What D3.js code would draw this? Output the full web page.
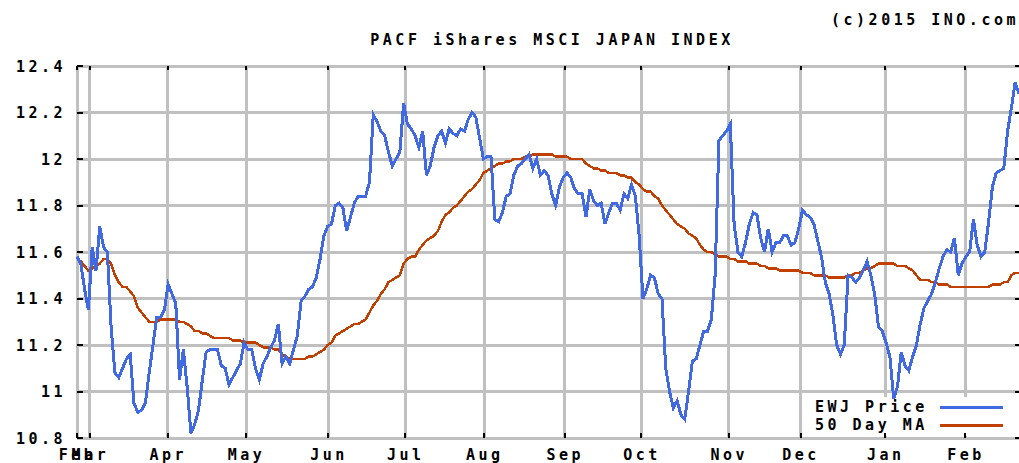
<!DOCTYPE html>
<html>
<head>
<meta charset="utf-8">
<script src="https://cdn.jsdelivr.net/npm/d3@7/dist/d3.min.js"></script>
<style>
  html, body { margin: 0; padding: 0; background: #fff; }
  svg text { font-family: "DejaVu Sans Mono", "Liberation Mono", monospace; font-weight: bold; font-size: 15px; letter-spacing: 3.5px; fill: #000; }
</style>
</head>
<body>
<div id="chart"></div>
<script>
var title = 'PACF iShares MSCI JAPAN INDEX';
var credit = '(c)2015 INO.com';

// month tick labels and their trading-day position
var monthLabels = ['Feb', 'Mar', 'Apr', 'May', 'Jun', 'Jul', 'Aug', 'Sep', 'Oct', 'Nov', 'Dec', 'Jan', 'Feb'];
var monthDays = [0, 3.4, 23.9, 44.5, 66.2, 86.4, 107.2, 128.4, 148.6, 171.6, 190.5, 212.8, 233.9];

var yTicks = [10.8, 11, 11.2, 11.4, 11.6, 11.8, 12, 12.2, 12.4];

// EWJ daily close, one value per trading day
var price = [
  11.58, 11.55, 11.44, 11.35, 11.62, 11.52, 11.71, 11.62, 11.60, 11.27,
  11.08, 11.06, 11.10, 11.14, 11.16, 10.95, 10.91, 10.92, 10.95, 11.08,
  11.20, 11.32, 11.32, 11.35, 11.46, 11.42, 11.38, 11.05, 11.18, 11.02,
  10.82, 10.86, 10.92, 11.05, 11.17, 11.18, 11.18, 11.18, 11.11, 11.10,
  11.03, 11.06, 11.09, 11.12, 11.21, 11.18, 11.18, 11.10, 11.05, 11.12,
  11.15, 11.19, 11.22, 11.29, 11.12, 11.15, 11.12, 11.18, 11.24, 11.39,
  11.41, 11.44, 11.45, 11.49, 11.57, 11.67, 11.71, 11.72, 11.80, 11.81,
  11.79, 11.69, 11.75, 11.81, 11.84, 11.84, 11.84, 11.90, 12.19, 12.16,
  12.12, 12.10, 12.03, 11.97, 12.00, 12.03, 12.24, 12.15, 12.13, 12.10,
  12.05, 12.12, 11.93, 11.97, 12.05, 12.10, 12.12, 12.07, 12.13, 12.11,
  12.10, 12.13, 12.12, 12.17, 12.20, 12.18, 12.09, 12.00, 12.01, 12.01,
  11.74, 11.73, 11.77, 11.84, 11.85, 11.93, 11.97, 11.98, 12.00, 12.02,
  11.96, 12.00, 11.93, 11.95, 11.93, 11.85, 11.80, 11.88, 11.92, 11.94,
  11.92, 11.87, 11.85, 11.85, 11.75, 11.87, 11.82, 11.80, 11.81, 11.72,
  11.77, 11.81, 11.81, 11.78, 11.85, 11.83, 11.89, 11.84, 11.67, 11.40,
  11.44, 11.50, 11.49, 11.42, 11.40, 11.10, 11.00, 10.93, 10.96, 10.90,
  10.88, 11.00, 11.13, 11.14, 11.20, 11.26, 11.26, 11.31, 11.50, 12.08,
  12.10, 12.12, 12.15, 11.72, 11.60, 11.58, 11.64, 11.72, 11.77, 11.76,
  11.66, 11.60, 11.70, 11.60, 11.64, 11.64, 11.67, 11.67, 11.63, 11.64,
  11.70, 11.78, 11.76, 11.75, 11.72, 11.65, 11.58, 11.47, 11.42, 11.33,
  11.20, 11.16, 11.20, 11.50, 11.49, 11.47, 11.49, 11.52, 11.56, 11.50,
  11.42, 11.28, 11.26, 11.21, 11.15, 10.97, 11.02, 11.17, 11.11, 11.09,
  11.15, 11.20, 11.29, 11.36, 11.39, 11.42, 11.47, 11.53, 11.58, 11.61,
  11.60, 11.66, 11.50, 11.55, 11.58, 11.60, 11.74, 11.63, 11.58, 11.60,
  11.73, 11.88, 11.94, 11.95, 11.96, 12.12, 12.22, 12.33, 12.28
];

// 50 day moving average
var ma50 = [
  11.57, 11.56, 11.54, 11.52, 11.53, 11.54, 11.55, 11.57, 11.57, 11.55,
  11.50, 11.47, 11.45, 11.45, 11.43, 11.41, 11.36, 11.34, 11.32, 11.30,
  11.30, 11.30, 11.31, 11.31, 11.31, 11.31, 11.31, 11.30, 11.30, 11.29,
  11.28, 11.26, 11.26, 11.25, 11.25, 11.24, 11.23, 11.23, 11.23, 11.23,
  11.23, 11.22, 11.22, 11.22, 11.21, 11.21, 11.21, 11.21, 11.20, 11.19,
  11.19, 11.19, 11.18, 11.18, 11.16, 11.15, 11.14, 11.14, 11.14, 11.14,
  11.14, 11.15, 11.15, 11.16, 11.17, 11.18, 11.20, 11.21, 11.24, 11.25,
  11.26, 11.27, 11.28, 11.29, 11.29, 11.30, 11.31, 11.34, 11.37, 11.39,
  11.42, 11.44, 11.47, 11.48, 11.49, 11.50, 11.55, 11.57, 11.58, 11.58,
  11.61, 11.63, 11.65, 11.66, 11.67, 11.69, 11.73, 11.76, 11.77, 11.79,
  11.80, 11.82, 11.84, 11.86, 11.87, 11.89, 11.91, 11.94, 11.95, 11.96,
  11.97, 11.98, 11.98, 11.99, 11.99, 12.00, 12.00, 12.00, 12.01, 12.01,
  12.02, 12.02, 12.02, 12.02, 12.02, 12.02, 12.01, 12.01, 12.01, 12.01,
  12.00, 12.00, 12.00, 12.00, 11.98, 11.97, 11.96, 11.96, 11.95, 11.95,
  11.94, 11.94, 11.94, 11.93, 11.93, 11.92, 11.92, 11.90, 11.89, 11.87,
  11.86, 11.86, 11.84, 11.83, 11.80, 11.78, 11.76, 11.74, 11.72, 11.71,
  11.70, 11.68, 11.67, 11.66, 11.63, 11.61, 11.60, 11.60, 11.59, 11.58,
  11.58, 11.58, 11.57, 11.57, 11.56, 11.56, 11.56, 11.55, 11.55, 11.55,
  11.54, 11.54, 11.53, 11.53, 11.53, 11.52, 11.52, 11.52, 11.52, 11.52,
  11.52, 11.51, 11.51, 11.51, 11.50, 11.50, 11.50, 11.50, 11.49, 11.49,
  11.49, 11.49, 11.49, 11.50, 11.50, 11.51, 11.51, 11.52, 11.53, 11.53,
  11.54, 11.55, 11.55, 11.55, 11.55, 11.55, 11.54, 11.54, 11.54, 11.53,
  11.52, 11.50, 11.48, 11.48, 11.48, 11.47, 11.47, 11.46, 11.46, 11.46,
  11.45, 11.45, 11.45, 11.45, 11.45, 11.45, 11.45, 11.45, 11.45, 11.45,
  11.45, 11.46, 11.46, 11.46, 11.47, 11.47, 11.50, 11.51, 11.51
];

var width = 1019, height = 463;
var plot = { left: 77, right: 1019, top: 66, bottom: 438 };

var svg = d3.select('#chart').append('svg')
  .attr('width', width)
  .attr('height', height)
  .style('display', 'block');

svg.append('rect').attr('width', width).attr('height', height).attr('fill', '#fff');

var x = d3.scaleLinear().domain([0, price.length - 1]).range([plot.left, plot.right]);
var y = d3.scaleLinear().domain([10.8, 12.4]).range([plot.bottom, plot.top]);

var grid = svg.append('g').attr('stroke', '#c0c0c0').attr('stroke-width', 3).attr('shape-rendering', 'crispEdges');
grid.selectAll('line.h').data(yTicks).enter().append('line')
  .attr('class', 'h')
  .attr('x1', plot.left).attr('x2', plot.right)
  .attr('y1', function (d) { return y(d); })
  .attr('y2', function (d) { return y(d); });
grid.selectAll('line.v').data(monthDays).enter().append('line')
  .attr('class', 'v')
  .attr('x1', function (d) { return x(d); })
  .attr('x2', function (d) { return x(d); })
  .attr('y1', plot.top).attr('y2', plot.bottom);

// legend background sits over the grid but under the lines
var legend = svg.append('g').attr('transform', 'translate(806, 397)');
legend.append('rect').attr('width', 213).attr('height', 39).attr('fill', '#fff');

// small black ticks on all four sides
var ticks = svg.append('g').attr('stroke', '#000').attr('stroke-width', 2).attr('shape-rendering', 'crispEdges');
ticks.selectAll('line.l').data(yTicks).enter().append('line')
  .attr('x1', plot.left).attr('x2', plot.left + 6)
  .attr('y1', function (d) { return y(d); }).attr('y2', function (d) { return y(d); });
ticks.selectAll('line.r').data(yTicks).enter().append('line')
  .attr('x1', plot.right - 4).attr('x2', plot.right)
  .attr('y1', function (d) { return y(d); }).attr('y2', function (d) { return y(d); });
ticks.selectAll('line.b').data(monthDays).enter().append('line')
  .attr('x1', function (d) { return x(d); }).attr('x2', function (d) { return x(d); })
  .attr('y1', plot.bottom - 5).attr('y2', plot.bottom);
ticks.selectAll('line.t').data(monthDays).enter().append('line')
  .attr('x1', function (d) { return x(d); }).attr('x2', function (d) { return x(d); })
  .attr('y1', plot.top).attr('y2', plot.top + 4);

var line = d3.line()
  .x(function (d, i) { return x(i); })
  .y(function (d) { return y(d); });

svg.append('path')
  .datum(ma50)
  .attr('d', line)
  .attr('fill', 'none')
  .attr('stroke', '#c04000')
  .attr('stroke-width', 2.5)
  .attr('shape-rendering', 'crispEdges');

svg.append('path')
  .datum(price)
  .attr('d', line)
  .attr('fill', 'none')
  .attr('stroke', '#4169e1')
  .attr('stroke-width', 3)
  .attr('shape-rendering', 'crispEdges');

// axes, used for labels only
var yAxis = svg.append('g')
  .attr('transform', 'translate(' + (plot.left - 11) + ', 0)')
  .call(d3.axisLeft(y).tickValues(yTicks).tickSize(0).tickPadding(0)
    .tickFormat(function (d) { return d3.format('~g')(d); }));
yAxis.select('.domain').remove();
yAxis.attr('font-family', null).attr('font-size', null);
yAxis.selectAll('text').attr('dy', '0.36em');

var xAxis = svg.append('g')
  .attr('transform', 'translate(0, ' + (plot.bottom + 11) + ')')
  .call(d3.axisBottom(x).tickValues(monthDays).tickSize(0).tickPadding(0)
    .tickFormat(function (d, i) { return monthLabels[i]; }));
xAxis.select('.domain').remove();
xAxis.attr('font-family', null).attr('font-size', null);
xAxis.selectAll('text').attr('dy', '0.71em');

svg.append('text')
  .attr('x', 552).attr('y', 45)
  .attr('text-anchor', 'middle')
  .text(title);

svg.append('text')
  .attr('x', 1019).attr('y', 25)
  .attr('text-anchor', 'end')
  .text(credit);

var legendItems = [
  { name: 'EWJ Price', color: '#4169e1' },
  { name: '50 Day MA', color: '#c04000' }
];
var item = legend.selectAll('g.item').data(legendItems).enter().append('g')
  .attr('class', 'item')
  .attr('transform', function (d, i) { return 'translate(0, ' + (10 + i * 18) + ')'; });
item.append('text')
  .attr('x', 9).attr('dy', '0.36em')
  .text(function (d) { return d.name; });
item.append('line')
  .attr('x1', 134).attr('x2', 197)
  .attr('stroke', function (d) { return d.color; })
  .attr('stroke-width', 3)
  .attr('shape-rendering', 'crispEdges');
</script>
</body>
</html>
